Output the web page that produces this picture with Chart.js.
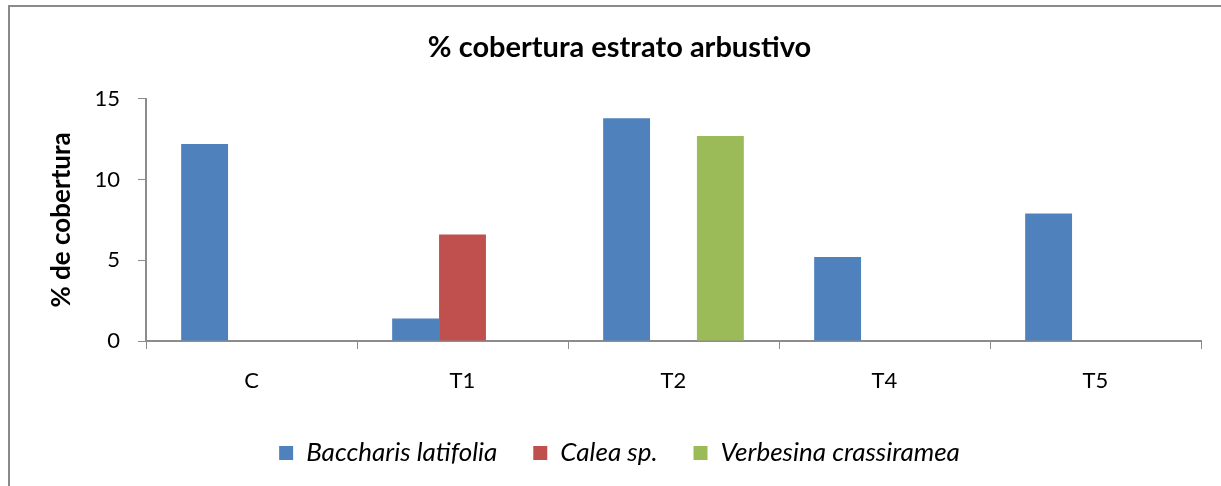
<!DOCTYPE html>
<html>
<head>
<meta charset="utf-8">
<script src="https://cdn.jsdelivr.net/npm/chart.js@4"></script>
<style>
  html, body { margin: 0; padding: 0; background: #ffffff; }
  #wrap { position: relative; width: 1221px; height: 486px; overflow: hidden; }
  #frame { position: absolute; left: 8px; top: 5px; width: 1400px; height: 600px;
           border-left: 2px solid #8a8a8a; border-top: 2px solid #8a8a8a; }
  canvas { position: absolute; left: 0; top: 0; }
</style>
</head>
<body>
<div id="wrap">
  <div id="frame"></div>
  <canvas id="c" width="1221" height="486"></canvas>
</div>
<script>
const categories = ["C", "T1", "T2", "T4", "T5"];
const seriesNames = ["Baccharis latifolia", "Calea sp.", "Verbesina crassiramea"];
const baccharis = [12.2, 1.4, 13.8, 5.2, 7.9];
const calea = [0, 6.6, 0, 0, 0];
const verbesina = [0, 0, 12.7, 0, 0];
const yTicks = [0, 5, 10, 15];
const chartTitle = "% cobertura estrato arbustivo";
const yTitle = "% de cobertura";

const FONT = "Lato, 'Open Sans', sans-serif";
const axisColor = "#8c8c8c";

new Chart(document.getElementById("c"), {
  type: "bar",
  data: {
    labels: categories,
    datasets: [
      { label: seriesNames[0], data: baccharis, backgroundColor: "#4F81BD" },
      { label: seriesNames[1], data: calea, backgroundColor: "#C0504D" },
      { label: seriesNames[2], data: verbesina, backgroundColor: "#9BBB59" }
    ]
  },
  options: {
    responsive: false,
    animation: false,
    devicePixelRatio: 1,
    layout: { padding: { left: 38, right: 20, top: 0, bottom: 10 } },
    datasets: { bar: { categoryPercentage: 3 / 4.5, barPercentage: 1.0 } },
    plugins: {
      title: {
        display: true,
        text: chartTitle,
        color: "#000",
        font: { family: FONT, size: 29, weight: "bold" },
        padding: { top: 30, bottom: 34 }
      },
      legend: {
        position: "bottom",
        labels: {
          color: "#000",
          font: { family: FONT, size: 26, style: "italic" },
          boxWidth: 14,
          boxHeight: 14,
          padding: 36
        }
      },
      tooltip: { enabled: false }
    },
    scales: {
      x: {
        grid: { display: true, drawOnChartArea: false, drawTicks: true, tickLength: 8, color: axisColor, offset: true },
        border: { display: true, color: axisColor, width: 2 },
        ticks: { color: "#000", font: { family: FONT, size: 22 }, padding: 19 },
        afterFit: (s) => { s.height = 63; }
      },
      y: {
        min: 0,
        max: 15,
        afterBuildTicks: (s) => { s.ticks = yTicks.map(v => ({ value: v })); },
        grid: { display: true, drawOnChartArea: false, drawTicks: true, tickLength: 8, color: axisColor },
        border: { display: true, color: axisColor, width: 2 },
        ticks: { color: "#000", font: { family: FONT, size: 22 }, padding: 18 },
        title: {
          display: true,
          text: yTitle,
          color: "#000",
          font: { family: FONT, size: 26, weight: "bold" },
          padding: { top: 8, bottom: 0 }
        },
        afterFit: (s) => { s.width = 108; }
      }
    }
  }
});
</script>
</body>
</html>
